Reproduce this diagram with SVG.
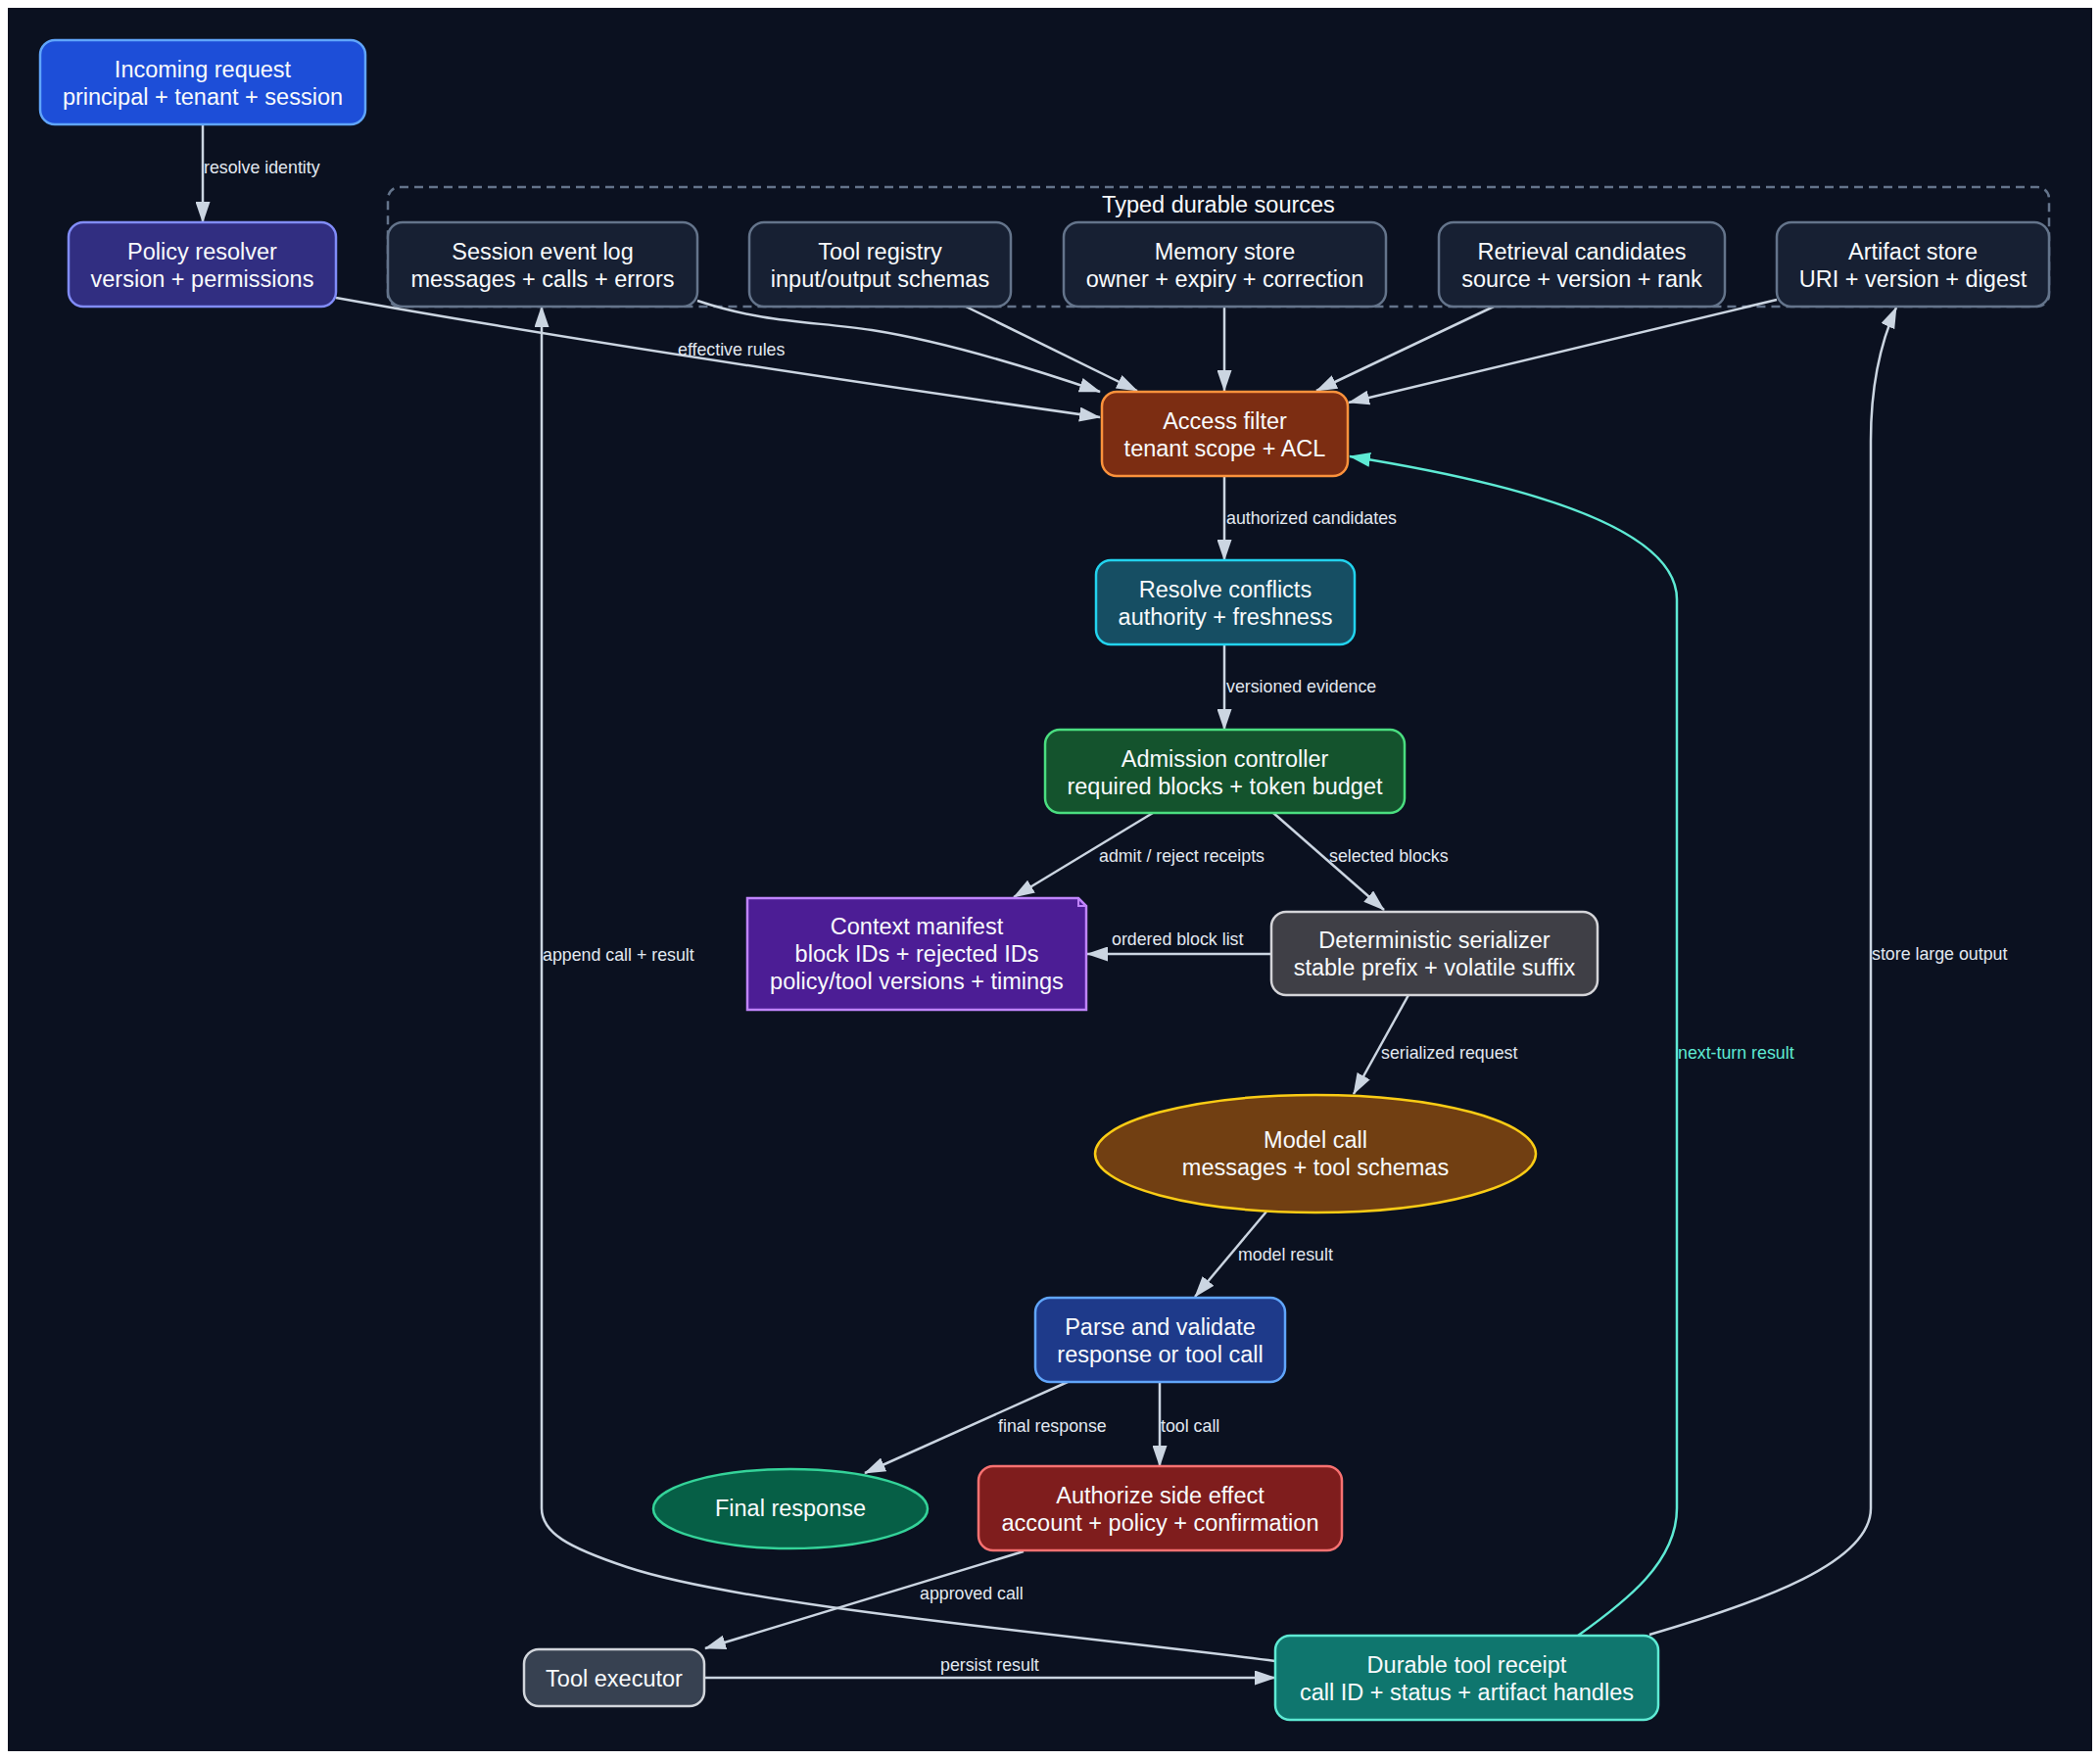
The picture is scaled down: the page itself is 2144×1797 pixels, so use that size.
<svg xmlns="http://www.w3.org/2000/svg" width="2144" height="1797" viewBox="0 0 2144 1797">
<style>
.n{stroke-width:2.5}
.t{font-family:"Liberation Sans",Arial,sans-serif;font-size:23.5px;fill:#f8fafc;text-anchor:middle}
.e{fill:none;stroke:#cbd5e1;stroke-width:2.5}
.l{font-family:"Liberation Sans",Arial,sans-serif;font-size:17.8px;fill:#e2e8f0}
.src{fill:#172033;stroke:#64748b}
</style>
<defs>
<marker id="ah" viewBox="0 0 22 15" markerWidth="22" markerHeight="15" refX="21" refY="7.5" orient="auto" markerUnits="userSpaceOnUse"><path d="M0,0 L22,7.5 L0,15 z" fill="#cbd5e1"/></marker>
<marker id="aht" viewBox="0 0 22 15" markerWidth="22" markerHeight="15" refX="21" refY="7.5" orient="auto" markerUnits="userSpaceOnUse"><path d="M0,0 L22,7.5 L0,15 z" fill="#5eead4"/></marker>
</defs>
<rect x="0" y="0" width="2144" height="1797" fill="#ffffff"/>
<rect x="8" y="8" width="2128" height="1780" fill="#0b1120"/>

<g id="cluster-sources">
<rect x="396" y="191" width="1696" height="122" rx="12" fill="none" stroke="#64748b" stroke-width="2.5" stroke-dasharray="9,6"/>
<text class="t" x="1244" y="217">Typed durable sources</text>
</g>

<g id="connectors">
<path class="e" d="M207,127 L207,227" marker-end="url(#ah)"/>
<text class="l" x="208" y="177">resolve identity</text>
<path class="e" d="M343,304 C520,336 800,380 1123,426" marker-end="url(#ah)"/>
<text class="l" x="692" y="363">effective rules</text>
<path class="e" d="M712,307 C780,330 830,328 890,337 C960,348 1050,375 1123,400" marker-end="url(#ah)"/>
<path class="e" d="M986,313 L1161,399" marker-end="url(#ah)"/>
<path class="e" d="M1250,313 L1250,399" marker-end="url(#ah)"/>
<path class="e" d="M1525,313 L1344,399" marker-end="url(#ah)"/>
<path class="e" d="M1814,306 L1377,411" marker-end="url(#ah)"/>
<path class="e" d="M1250,486 L1250,572" marker-end="url(#ah)"/>
<text class="l" x="1252" y="535">authorized candidates</text>
<path class="e" d="M1250,658 L1250,745" marker-end="url(#ah)"/>
<text class="l" x="1252" y="707">versioned evidence</text>
<path class="e" d="M1177,830 L1035,916" marker-end="url(#ah)"/>
<text class="l" x="1122" y="880">admit / reject receipts</text>
<path class="e" d="M1300,830 L1413,929" marker-end="url(#ah)"/>
<text class="l" x="1357" y="880">selected blocks</text>
<path class="e" d="M1298,974 L1110,974" marker-end="url(#ah)"/>
<text class="l" x="1135" y="965">ordered block list</text>
<path class="e" d="M1438,1016 L1382,1117" marker-end="url(#ah)"/>
<text class="l" x="1410" y="1081">serialized request</text>
<path class="e" d="M1293,1237 L1220,1324" marker-end="url(#ah)"/>
<text class="l" x="1264" y="1287">model result</text>
<path class="e" d="M1090,1411 L883,1504" marker-end="url(#ah)"/>
<text class="l" x="1019" y="1462">final response</text>
<path class="e" d="M1184,1411 L1184,1497" marker-end="url(#ah)"/>
<text class="l" x="1185" y="1462">tool call</text>
<path class="e" d="M1045,1584 L720,1683" marker-end="url(#ah)"/>
<text class="l" x="939" y="1633">approved call</text>
<path class="e" d="M719,1713 L1302,1713" marker-end="url(#ah)"/>
<text class="l" x="960" y="1706">persist result</text>
<path class="e" d="M1302,1696 C1100,1670 760,1640 640,1600 C580,1580 553,1565 553,1540 L553,313" marker-end="url(#ah)"/>
<text class="l" x="554" y="981">append call + result</text>
<path d="M1611,1670 C1660,1635 1712,1595 1712,1540 L1712,612 C1712,540 1560,495 1378,466" fill="none" stroke="#5eead4" stroke-width="2.5" marker-end="url(#aht)"/>
<text class="l" x="1713" y="1081" style="fill:#5eead4">next-turn result</text>
<path class="e" d="M1684,1669 C1800,1635 1910,1595 1910,1540 L1910,450 C1910,390 1922,345 1936,314" marker-end="url(#ah)"/>
<text class="l" x="1911" y="980">store large output</text>
</g>

<g id="incoming-request">
<rect class="n" x="41" y="41" width="332" height="86" rx="15" fill="#1d4ed8" stroke="#60a5fa"/>
<text class="t" x="207" y="79">Incoming request</text>
<text class="t" x="207" y="107">principal + tenant + session</text>
</g>
<g id="policy-resolver">
<rect class="n" x="70" y="227" width="273" height="86" rx="15" fill="#312e81" stroke="#818cf8"/>
<text class="t" x="206.5" y="265">Policy resolver</text>
<text class="t" x="206.5" y="293">version + permissions</text>
</g>
<g id="session-event-log">
<rect class="n src" x="396" y="227" width="316" height="86" rx="15"/>
<text class="t" x="554" y="265">Session event log</text>
<text class="t" x="554" y="293">messages + calls + errors</text>
</g>
<g id="tool-registry">
<rect class="n src" x="765" y="227" width="267" height="86" rx="15"/>
<text class="t" x="898.5" y="265">Tool registry</text>
<text class="t" x="898.5" y="293">input/output schemas</text>
</g>
<g id="memory-store">
<rect class="n src" x="1086" y="227" width="329" height="86" rx="15"/>
<text class="t" x="1250.5" y="265">Memory store</text>
<text class="t" x="1250.5" y="293">owner + expiry + correction</text>
</g>
<g id="retrieval-candidates">
<rect class="n src" x="1469" y="227" width="292" height="86" rx="15"/>
<text class="t" x="1615" y="265">Retrieval candidates</text>
<text class="t" x="1615" y="293">source + version + rank</text>
</g>
<g id="artifact-store">
<rect class="n src" x="1814" y="227" width="278" height="86" rx="15"/>
<text class="t" x="1953" y="265">Artifact store</text>
<text class="t" x="1953" y="293">URI + version + digest</text>
</g>
<g id="access-filter">
<rect class="n" x="1125" y="400" width="251" height="86" rx="15" fill="#7c2d12" stroke="#fb923c"/>
<text class="t" x="1250.5" y="438">Access filter</text>
<text class="t" x="1250.5" y="466">tenant scope + ACL</text>
</g>
<g id="resolve-conflicts">
<rect class="n" x="1119" y="572" width="264" height="86" rx="15" fill="#164e63" stroke="#22d3ee"/>
<text class="t" x="1251" y="610">Resolve conflicts</text>
<text class="t" x="1251" y="638">authority + freshness</text>
</g>
<g id="admission-controller">
<rect class="n" x="1067" y="745" width="367" height="85" rx="15" fill="#14532d" stroke="#4ade80"/>
<text class="t" x="1250.5" y="783">Admission controller</text>
<text class="t" x="1250.5" y="811">required blocks + token budget</text>
</g>
<g id="context-manifest">
<path class="n" d="M763,917 L1101,917 L1109,925 L1109,1031 L763,1031 Z" fill="#4c1d95" stroke="#c084fc"/>
<path d="M1101,917 L1101,925 L1109,925" fill="none" stroke="#c084fc" stroke-width="2"/>
<text class="t" x="936" y="954">Context manifest</text>
<text class="t" x="936" y="982">block IDs + rejected IDs</text>
<text class="t" x="936" y="1010">policy/tool versions + timings</text>
</g>
<g id="deterministic-serializer">
<rect class="n" x="1298" y="931" width="333" height="85" rx="15" fill="#3f3f46" stroke="#d4d4d8"/>
<text class="t" x="1464.5" y="968">Deterministic serializer</text>
<text class="t" x="1464.5" y="996">stable prefix + volatile suffix</text>
</g>
<g id="model-call">
<ellipse class="n" cx="1343" cy="1178" rx="225" ry="60" fill="#713f12" stroke="#facc15"/>
<text class="t" x="1343" y="1172">Model call</text>
<text class="t" x="1343" y="1200">messages + tool schemas</text>
</g>
<g id="parse-validate">
<rect class="n" x="1057" y="1325" width="255" height="86" rx="15" fill="#1e3a8a" stroke="#60a5fa"/>
<text class="t" x="1184.5" y="1363">Parse and validate</text>
<text class="t" x="1184.5" y="1391">response or tool call</text>
</g>
<g id="final-response">
<ellipse class="n" cx="807" cy="1540.5" rx="140" ry="40.5" fill="#065f46" stroke="#34d399"/>
<text class="t" x="807" y="1548">Final response</text>
</g>
<g id="authorize-side-effect">
<rect class="n" x="999" y="1497" width="371" height="86" rx="15" fill="#7f1d1d" stroke="#f87171"/>
<text class="t" x="1184.5" y="1535">Authorize side effect</text>
<text class="t" x="1184.5" y="1563">account + policy + confirmation</text>
</g>
<g id="tool-executor">
<rect class="n" x="535" y="1684" width="184" height="58" rx="15" fill="#374151" stroke="#d1d5db"/>
<text class="t" x="627" y="1722">Tool executor</text>
</g>
<g id="durable-tool-receipt">
<rect class="n" x="1302" y="1670" width="391" height="86" rx="15" fill="#0f766e" stroke="#5eead4"/>
<text class="t" x="1497.5" y="1708">Durable tool receipt</text>
<text class="t" x="1497.5" y="1736">call ID + status + artifact handles</text>
</g>
</svg>
